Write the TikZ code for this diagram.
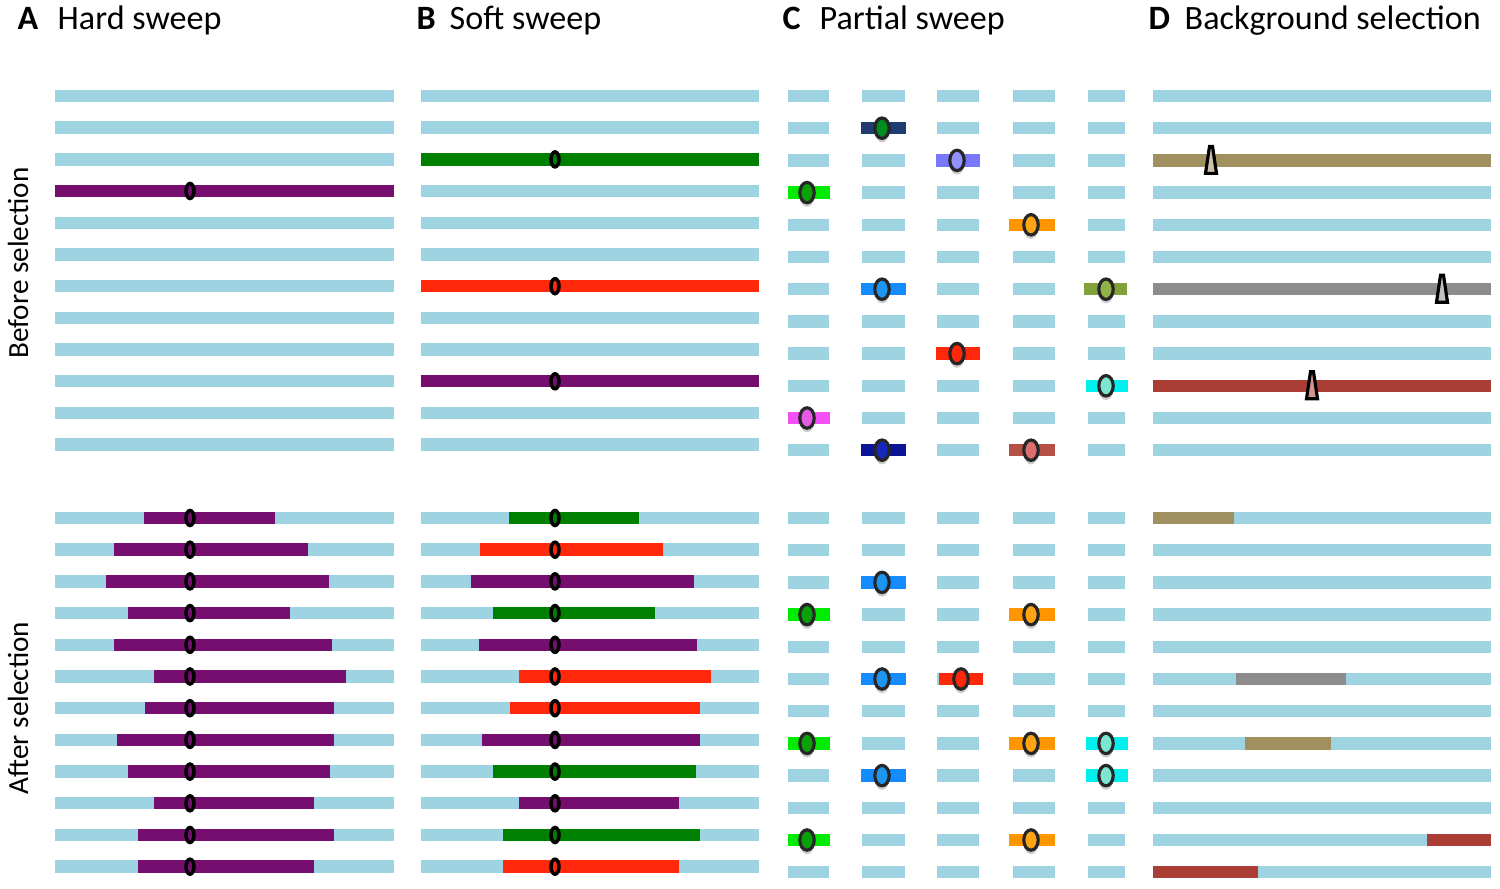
\documentclass[tikz,border=0pt]{standalone}
\usepackage{fontspec}
\setmainfont{Carlito}
\usepackage{tikz}
\definecolor{hapblue}{RGB}{158,211,226}
\definecolor{sweeppurple}{RGB}{118,14,112}
\definecolor{sweepgreen}{RGB}{0,128,0}
\definecolor{sweepred}{RGB}{255,40,10}
\definecolor{limegr}{RGB}{0,235,0}
\definecolor{limegrdot}{RGB}{10,160,10}
\definecolor{navybar}{RGB}{30,60,110}
\definecolor{navydot}{RGB}{0,140,30}
\definecolor{azure}{RGB}{20,140,255}
\definecolor{azuredot}{RGB}{30,150,240}
\definecolor{deepblue}{RGB}{10,20,150}
\definecolor{deepbluedot}{RGB}{20,40,190}
\definecolor{lavender}{RGB}{120,120,255}
\definecolor{lavenderdot}{RGB}{145,145,255}
\definecolor{orangebar}{RGB}{255,150,0}
\definecolor{orangedot}{RGB}{255,165,20}
\definecolor{indianbar}{RGB}{180,80,70}
\definecolor{indiandot}{RGB}{220,110,110}
\definecolor{olivebar}{RGB}{130,160,60}
\definecolor{olivedot}{RGB}{145,178,70}
\definecolor{cyanbar}{RGB}{0,240,240}
\definecolor{cyandot}{RGB}{125,230,210}
\definecolor{magbar}{RGB}{245,80,245}
\definecolor{magdot}{RGB}{230,90,230}
\definecolor{khaki}{RGB}{160,144,96}
\definecolor{greybar}{RGB}{140,140,140}
\definecolor{brownred}{RGB}{170,62,52}

% bar: x1, x2, y, colour
\newcommand{\hapbar}[4]{\fill[#4] (#1,{#3-6.2}) rectangle (#2,{#3+6.2});}
% small marker of panels A and B: x, y, colour
\newcommand{\snp}[3]{\filldraw[fill=#3,draw=black,line width=1pt] (#1,#2) ellipse (0.4mm and 0.75mm);}
% partial sweep haplotype: x1, x2, y, bar colour, marker colour, marker x
\newcommand{\partsnp}[6]{\hapbar{#1}{#2}{#3}{#4}
  \fill[black!20] (#6,{#3+4}) ellipse (0.72mm and 1.02mm);
  \filldraw[fill=#5,draw=black!85,line width=0.9pt] (#6,#3) ellipse (0.72mm and 1.02mm);}
% background selection marker: x, y, colour
\newcommand{\bgsnp}[3]{\filldraw[fill=#3!55!white,draw=black,line width=0.9pt]
  (#1-1.5,#2-14) -- (#1+1.5,#2-14) -- (#1+5.5,#2+13) -- (#1-5.5,#2+13) -- cycle;}

\begin{document}
\begin{tikzpicture}[x=0.01cm,y=-0.01cm,
    title/.style={anchor=base west,inner sep=0pt,font=\fontsize{9.7}{11}\selectfont},
    side/.style={rotate=90,inner sep=0pt,font=\fontsize{8.3}{10}\selectfont}]
\useasboundingbox (0,0) rectangle (1500,889);

% Titles
\node[title] (lA) at (17,30) {\textbf{A}};
\node[title] (tA) at (57,30) {Hard sweep};
\node[title] (lB) at (416,30) {\textbf{B}};
\node[title] (tB) at (449,30) {Soft sweep};
\node[title] (lC) at (782,30) {\textbf{C}};
\node[title] (tC) at (819,30) {Partial sweep};
\node[title] (lD) at (1148,30) {\textbf{D}};
\node[title] (tD) at (1184,30) {Background selection};

% Row labels
\node[side] (before) at (18,263) {Before selection};
\node[side] (after) at (18,708) {After selection};

% Panel A
\foreach \i in {0,...,11} {
    \hapbar{55}{394}{96+31.7*\i}{hapblue}
}
\hapbar{55}{394}{191}{sweeppurple}
\snp{190}{191}{sweeppurple}
\foreach \i/\a/\b in {0/144/275,1/114/308,2/106/329,3/128/290,4/114/332,5/154/346,
                      6/145/334,7/117/334,8/128/330,9/154/314,10/138/334,11/138/314} {
    \hapbar{55}{394}{518+31.7*\i}{hapblue}
    \hapbar{\a}{\b}{518+31.7*\i}{sweeppurple}
    \snp{190}{518+31.7*\i}{sweeppurple}
}

% Panel B
\foreach \i in {0,...,11} {
    \hapbar{421}{759}{96+31.7*\i}{hapblue}
}
\foreach \i/\c in {2/sweepgreen,6/sweepred,9/sweeppurple} {
    \hapbar{421}{759}{96+31.7*\i}{\c}
    \snp{555}{96+31.7*\i}{\c}
}
\foreach \i/\a/\b/\c in {0/509/639/sweepgreen,1/480/663/sweepred,2/471/694/sweeppurple,
                         3/493/655/sweepgreen,4/479/697/sweeppurple,5/519/711/sweepred,
                         6/510/700/sweepred,7/482/700/sweeppurple,8/493/696/sweepgreen,
                         9/519/679/sweeppurple,10/503/700/sweepgreen,11/503/679/sweepred} {
    \hapbar{421}{759}{518+31.7*\i}{hapblue}
    \hapbar{\a}{\b}{518+31.7*\i}{\c}
    \snp{555}{518+31.7*\i}{\c}
}

% Panel C
\foreach \x/\w in {788/829,862/905,937/979,1013/1055,1088/1125} {
    \foreach \i in {0,...,11} {
        \hapbar{\x}{\w}{96+32.2*\i}{hapblue}
        \hapbar{\x}{\w}{518+32.2*\i}{hapblue}
    }
}
\partsnp{788}{830}{96+32.2*3}{limegr}{limegrdot}{807}
\partsnp{788}{830}{96+32.2*10}{magbar}{magdot}{807}
\partsnp{861}{906}{96+32.2*1}{navybar}{navydot}{882}
\partsnp{861}{906}{96+32.2*6}{azure}{azuredot}{882}
\partsnp{861}{906}{96+32.2*11}{deepblue}{deepbluedot}{882}
\partsnp{936}{980}{96+32.2*2}{lavender}{lavenderdot}{957}
\partsnp{936}{980}{96+32.2*8}{sweepred}{sweepred}{957}
\partsnp{1009}{1055}{96+32.2*4}{orangebar}{orangedot}{1031}
\partsnp{1009}{1055}{96+32.2*11}{indianbar}{indiandot}{1031}
\partsnp{1084}{1127}{96+32.2*6}{olivebar}{olivedot}{1106}
\partsnp{1086}{1128}{96+32.2*9}{cyanbar}{cyandot}{1106}
\foreach \i in {3,7,10} {
    \partsnp{788}{830}{518+32.2*\i}{limegr}{limegrdot}{807}
    \partsnp{1009}{1055}{518+32.2*\i}{orangebar}{orangedot}{1031}
}
\foreach \i in {2,5,8} {
    \partsnp{861}{906}{518+32.2*\i}{azure}{azuredot}{882}
}
\partsnp{939}{983}{518+32.2*5}{sweepred}{sweepred}{961}
\foreach \i in {7,8} {
    \partsnp{1086}{1128}{518+32.2*\i}{cyanbar}{cyandot}{1106}
}

% Panel D
\foreach \i in {0,...,11} {
    \hapbar{1153}{1491}{96+32.2*\i}{hapblue}
    \hapbar{1153}{1491}{518+32.2*\i}{hapblue}
}
\foreach \i/\m/\c in {2/1211/khaki,6/1442/greybar,9/1312/brownred} {
    \hapbar{1153}{1491}{96+32.2*\i}{\c}
    \bgsnp{\m}{96+32.2*\i}{\c}
}
\foreach \i/\a/\b/\c in {0/1153/1234/khaki,5/1236/1346/greybar,7/1245/1331/khaki,
                         10/1427/1491/brownred,11/1153/1258/brownred} {
    \hapbar{\a}{\b}{518+32.2*\i}{\c}
}
\end{tikzpicture}
\end{document}
